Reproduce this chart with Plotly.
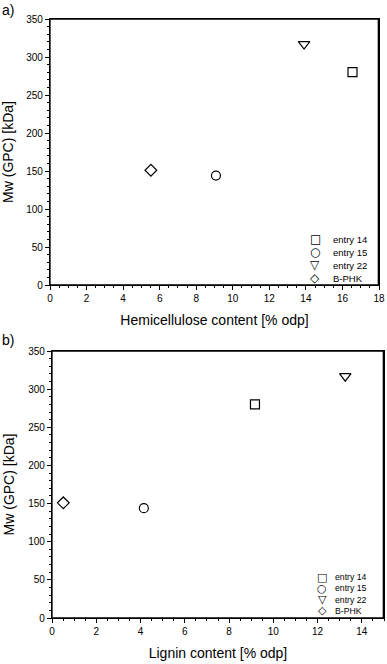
import plotly.graph_objects as go

# sample labels and marker symbols
labels = ["entry 14", "entry 15", "entry 22", "B-PHK"]
symbols = ["square-open", "circle-open", "triangle-down-open", "diamond-open"]
legend_glyphs = ["\u25a1", "\u25cb", "\u25bd", "\u25c7"]

# panel a) hemicellulose content vs Mw
hemicellulose = [16.55, 9.08, 13.9, 5.52]
# panel b) lignin content vs Mw
lignin = [9.17, 4.15, 13.25, 0.51]
# Mw (GPC) in kDa, same for both panels
mw = [280, 144, 317, 151]

W, H = 387, 664
font = "Liberation Sans, Arial, sans-serif"

fig = go.Figure()

for i, name in enumerate(labels):
    marker = dict(symbol=symbols[i], size=10 if i == 2 else 9, color="black", line=dict(width=1.2, color="black"))
    fig.add_trace(go.Scatter(x=[hemicellulose[i]], y=[mw[i]], mode="markers", name=name,
                             marker=marker, xaxis="x", yaxis="y", showlegend=False))
    fig.add_trace(go.Scatter(x=[lignin[i]], y=[mw[i]], mode="markers", name=name,
                             marker=marker, xaxis="x2", yaxis="y2", showlegend=False))

axis_style = dict(
    showline=True, linecolor="black", linewidth=1.2, mirror=True,
    ticks="outside", ticklen=4, tickwidth=1, tickcolor="black",
    showgrid=False, zeroline=False, automargin=False,
    tickfont=dict(size=10, color="black"),
    minor=dict(ticks="outside", ticklen=2, tickcolor="black", showgrid=False),
)


def px(x, y):
    # pixel position -> paper coordinates (margins are zero)
    return x / W, 1 - y / H


annotations = [
    dict(text="a)", x=0.0, y=1.0, xanchor="left", yanchor="top", font=dict(size=14)),
    dict(text="b)", x=0.0, y=px(0, 330)[1], xanchor="left", yanchor="top", font=dict(size=14)),
]

# hand-made compact legends: glyph + label per row
for (sym_x, txt_x, row0, step, fsize, gsize) in [(315, 331, 239, 13, 9.5, 12), (322, 333, 577, 11.3, 8.7, 11)]:
    for i, name in enumerate(labels):
        yy = row0 + i * step
        annotations.append(dict(text=legend_glyphs[i], x=px(sym_x, 0)[0], y=px(0, yy)[1],
                                xanchor="center", yanchor="middle",
                                font=dict(size=gsize, family="DejaVu Sans")))
        annotations.append(dict(text=name, x=px(txt_x, 0)[0], y=px(0, yy)[1],
                                xanchor="left", yanchor="middle", font=dict(size=fsize)))

for a in annotations:
    a.update(xref="paper", yref="paper", showarrow=False)

# closed frame around each panel
frames = [
    dict(type="rect", xref=f"{xa} domain", yref=f"{ya} domain", x0=0, x1=0.998, y0=0, y1=1,
         line=dict(color="black", width=1.3), layer="above")
    for xa, ya in [("x", "y"), ("x2", "y2")]
]

fig.update_layout(
    width=W, height=H,
    margin=dict(l=0, r=0, t=0, b=0),
    paper_bgcolor="white", plot_bgcolor="white",
    font=dict(family=font, color="black"),
    showlegend=False,
    xaxis=dict(axis_style, domain=[50 / W, 379 / W], anchor="y", range=[0, 18], dtick=2,
               title=dict(text="Hemicellulose content [% odp]", font=dict(size=14), standoff=12)),
    yaxis=dict(axis_style, domain=[1 - 285 / H, 1 - 19 / H], anchor="x", range=[0, 350], dtick=50,
               title=dict(text="Mw (GPC) [kDa]", font=dict(size=14), standoff=10)),
    xaxis2=dict(axis_style, domain=[52 / W, 384 / W], anchor="y2", range=[0, 15], dtick=2,
                title=dict(text="Lignin content [% odp]", font=dict(size=14), standoff=12)),
    yaxis2=dict(axis_style, domain=[1 - 618 / H, 1 - 351 / H], anchor="x2", range=[0, 350], dtick=50,
                title=dict(text="Mw (GPC) [kDa]", font=dict(size=14), standoff=10)),
    annotations=annotations,
    shapes=frames,
)

# the page body has a default 8px margin; drop it so the figure fills the window
fig.write_html("out.html", config={"displayModeBar": False},
               post_script="document.body.style.margin = '0';")
